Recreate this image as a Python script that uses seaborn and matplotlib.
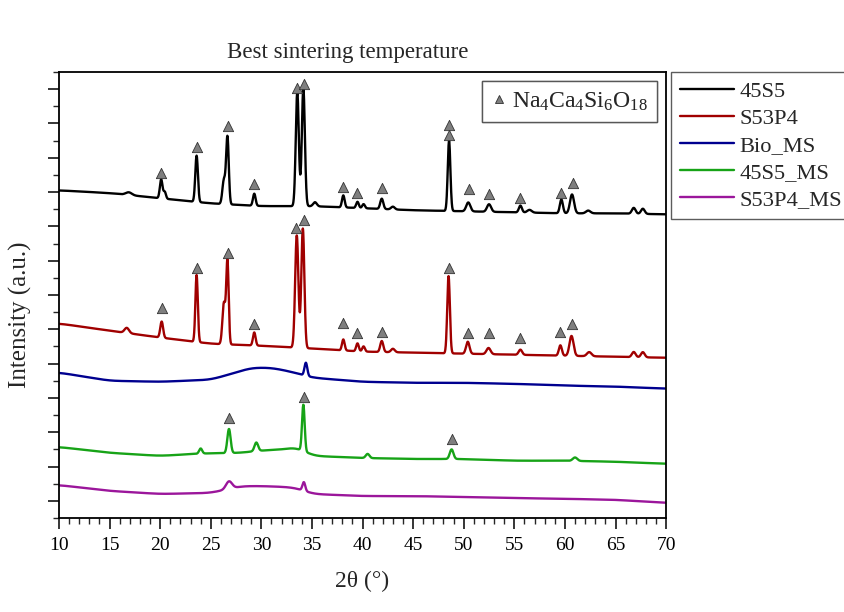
import numpy as np
import pandas as pd
import matplotlib
matplotlib.use("Agg")
import matplotlib.pyplot as plt
from matplotlib.lines import Line2D
from matplotlib.ticker import MultipleLocator, NullFormatter
import seaborn as sns

# ---- XRD traces (stacked, arbitrary intensity units) ----
series_names = ["45S5", "S53P4", "Bio_MS", "45S5_MS", "S53P4_MS"]
series_colors = ["#000000", "#a00000", "#00008f", "#17a317", "#9b169b"]

# background level of each trace: 2theta knots and levels
bg_45S5_x = [10, 15, 20, 25, 30, 35, 40, 45, 50, 55, 60, 65, 70]
bg_45S5_y = [9.05, 8.97, 8.82, 8.67, 8.59, 8.59, 8.53, 8.47, 8.44, 8.41, 8.38, 8.38, 8.35]
bg_S53P4_x = [10, 15, 20, 25, 30, 35, 40, 45, 50, 55, 60, 65, 70]
bg_S53P4_y = [5.17, 4.96, 4.76, 4.58, 4.52, 4.44, 4.35, 4.32, 4.29, 4.26, 4.23, 4.20, 4.17]
bg_Bio_x = [10, 15, 20, 25, 27, 29, 31, 33, 35, 40, 45, 50, 55, 60, 65, 70]
bg_Bio_y = [3.74, 3.50, 3.47, 3.53, 3.70, 3.88, 3.88, 3.76, 3.59, 3.47, 3.44, 3.44, 3.41, 3.36, 3.33, 3.27]
bg_45S5MS_x = [10, 15, 20, 24, 28, 30, 32, 33.5, 35, 40, 45, 50, 55, 60, 65, 70]
bg_45S5MS_y = [1.57, 1.40, 1.31, 1.38, 1.40, 1.47, 1.49, 1.58, 1.31, 1.25, 1.22, 1.22, 1.17, 1.17, 1.14, 1.08]
bg_S53P4MS_x = [10, 15, 20, 25, 28, 30, 32, 33.5, 35, 40, 45, 50, 55, 60, 65, 70]
bg_S53P4MS_y = [0.46, 0.29, 0.20, 0.23, 0.43, 0.43, 0.41, 0.38, 0.20, 0.14, 0.14, 0.11, 0.08, 0.06, 0.03, -0.06]

# reflections: position (deg), height above background, width (deg)
pk_45S5_pos = [16.9, 20.1, 20.45, 23.6, 26.3, 26.65, 29.3, 33.55, 34.15, 35.3, 38.1, 39.5, 40.1,
               41.9, 43.0, 48.55, 50.45, 52.5, 55.6, 56.5, 59.65, 60.7, 62.3, 66.8, 67.7]
pk_45S5_h = [0.08, 0.55, 0.2, 1.35, 0.7, 1.95, 0.35, 3.33, 3.45, 0.12, 0.35, 0.18, 0.12,
             0.3, 0.08, 2.05, 0.26, 0.22, 0.2, 0.08, 0.4, 0.55, 0.08, 0.17, 0.15]
pk_45S5_w = [0.3, 0.13, 0.12, 0.13, 0.15, 0.13, 0.13, 0.15, 0.15, 0.18, 0.13, 0.13, 0.13,
             0.15, 0.18, 0.13, 0.2, 0.2, 0.15, 0.22, 0.15, 0.2, 0.22, 0.18, 0.18]

pk_S53P4_pos = [16.7, 20.15, 23.6, 26.3, 26.65, 29.3, 33.5, 34.1, 38.1, 39.5, 40.1, 41.9, 43.0,
                48.5, 50.4, 52.45, 55.6, 59.55, 60.65, 62.4, 66.8, 67.7]
pk_S53P4_h = [0.15, 0.47, 1.95, 1.2, 2.4, 0.38, 3.27, 3.48, 0.32, 0.23, 0.15, 0.32, 0.1,
              2.25, 0.35, 0.18, 0.15, 0.3, 0.58, 0.12, 0.15, 0.15]
pk_S53P4_w = [0.22, 0.14, 0.12, 0.15, 0.12, 0.13, 0.16, 0.15, 0.13, 0.13, 0.13, 0.15, 0.18,
              0.13, 0.17, 0.2, 0.17, 0.15, 0.2, 0.22, 0.18, 0.18]

pk_Bio_pos = [34.4]
pk_Bio_h = [0.38]
pk_Bio_w = [0.14]

pk_45S5MS_pos = [24.0, 26.8, 29.5, 34.15, 40.5, 48.8, 61.0]
pk_45S5MS_h = [0.15, 0.7, 0.25, 1.35, 0.12, 0.28, 0.1]
pk_45S5MS_w = [0.15, 0.16, 0.18, 0.13, 0.18, 0.18, 0.22]

pk_S53P4MS_pos = [26.8, 34.2]
pk_S53P4MS_h = [0.22, 0.25]
pk_S53P4MS_w = [0.3, 0.14]

# Na4Ca4Si6O18 reflection markers
tri_45S5_x = [20.1, 23.6, 26.7, 29.3, 33.55, 34.2, 38.1, 39.5, 41.9, 48.55, 48.55, 50.5, 52.5, 55.6, 59.6, 60.75]
tri_45S5_y = [9.55, 10.31, 10.92, 9.23, 12.03, 12.15, 9.14, 8.97, 9.11, 10.95, 10.66, 9.08, 8.94, 8.82, 8.97, 9.26]
tri_S53P4_x = [20.2, 23.6, 26.7, 29.3, 33.4, 34.2, 38.1, 39.5, 41.9, 48.5, 50.4, 52.5, 55.6, 59.5, 60.7]
tri_S53P4_y = [5.61, 6.80, 7.21, 5.14, 7.94, 8.18, 5.17, 4.90, 4.93, 6.80, 4.90, 4.88, 4.76, 4.93, 5.14]
tri_45S5MS_x = [26.8, 34.2, 48.8]
tri_45S5MS_y = [2.42, 3.03, 1.81]

x_ticks = [10, 15, 20, 25, 30, 35, 40, 45, 50, 55, 60, 65, 70]

STEP = 0.02


def background(two_theta, bg_x, bg_y, smooth_deg=0.7):
    """Background through the knots, softened with a Gaussian kernel."""
    base = np.interp(two_theta, bg_x, bg_y)
    half = int(3 * smooth_deg / STEP)
    k = np.exp(-0.5 * (np.arange(-half, half + 1) * STEP / smooth_deg) ** 2)
    k /= k.sum()
    padded = np.concatenate([np.full(half, base[0]), base, np.full(half, base[-1])])
    return np.convolve(padded, k, mode="valid")


def pattern(two_theta, bg_x, bg_y, pos, h, w):
    y = background(two_theta, bg_x, bg_y)
    for p, a, s in zip(pos, h, w):
        y = y + a * np.exp(-0.5 * ((two_theta - p) / s) ** 2)
    return y


tt = np.arange(10.0, 70.0001, STEP)
curves = [
    pattern(tt, bg_45S5_x, bg_45S5_y, pk_45S5_pos, pk_45S5_h, pk_45S5_w),
    pattern(tt, bg_S53P4_x, bg_S53P4_y, pk_S53P4_pos, pk_S53P4_h, pk_S53P4_w),
    pattern(tt, bg_Bio_x, bg_Bio_y, pk_Bio_pos, pk_Bio_h, pk_Bio_w),
    pattern(tt, bg_45S5MS_x, bg_45S5MS_y, pk_45S5MS_pos, pk_45S5MS_h, pk_45S5MS_w),
    pattern(tt, bg_S53P4MS_x, bg_S53P4MS_y, pk_S53P4MS_pos, pk_S53P4MS_h, pk_S53P4MS_w),
]
df = pd.concat(
    [pd.DataFrame({"two_theta": tt, "intensity": c, "sample": n}) for n, c in zip(series_names, curves)],
    ignore_index=True,
)
markers = pd.DataFrame({
    "two_theta": tri_45S5_x + tri_S53P4_x + tri_45S5MS_x,
    "y": tri_45S5_y + tri_S53P4_y + tri_45S5MS_y,
})

sns.set_theme(style="ticks")
plt.rcParams["font.family"] = ["Liberation Serif", "DejaVu Serif"]
plt.rcParams["mathtext.fontset"] = "custom"
plt.rcParams["mathtext.rm"] = "Liberation Serif"
plt.rcParams["mathtext.it"] = "Liberation Serif:italic"

fig = plt.figure(figsize=(8.45, 6.12), dpi=100)
ax = fig.add_axes([0.0698, 0.1536, 0.7185, 0.7288])

sns.lineplot(data=df, x="two_theta", y="intensity", hue="sample", hue_order=series_names,
             palette=series_colors, estimator=None, sort=False, linewidth=1.7, legend=False, ax=ax)
sns.scatterplot(data=markers, x="two_theta", y="y", marker="^", s=55, color="#7f7f7f",
                edgecolor="#333333", linewidth=0.6, zorder=5, legend=False, ax=ax)

ax.set_xlim(10, 70)
ax.set_ylim(-0.5, 12.5)
ax.set_xticks(x_ticks)
ax.xaxis.set_minor_locator(MultipleLocator(1))
ax.yaxis.set_major_locator(MultipleLocator(1))
ax.yaxis.set_minor_locator(MultipleLocator(0.5))
ax.yaxis.set_major_formatter(NullFormatter())
ax.tick_params(axis="both", which="major", direction="out", length=8, width=1.1, colors="black",
               labelsize=14, pad=6, top=False, right=False)
ax.tick_params(axis="both", which="minor", direction="out", length=4.5, width=1.0, top=False, right=False)
for sp in ax.spines.values():
    sp.set_visible(True)
    sp.set_linewidth(1.3)
    sp.set_color("black")

ax.set_xlabel("2θ (°)", fontsize=17, labelpad=12)
ax.set_ylabel("Intensity (a.u.)", fontsize=18)
ax.yaxis.set_label_coords(-0.044, 0.455)
ax.set_title("Best sintering temperature", fontsize=16.5, x=0.476, pad=10)

# phase marker key inside the axes
phase_handle = Line2D([], [], linestyle="none", marker="^", markersize=6,
                      markerfacecolor="#7f7f7f", markeredgecolor="#333333", markeredgewidth=0.6)
phase_leg = ax.legend([phase_handle], [r"Na$_4$Ca$_4$Si$_6$O$_{18}$"], loc="upper right",
                      bbox_to_anchor=(0.985, 0.98), fontsize=17, frameon=True, fancybox=False,
                      handlelength=0.6, handletextpad=0.25, borderpad=0.4, borderaxespad=0)
phase_leg.get_frame().set_edgecolor("#444444")
phase_leg.get_frame().set_linewidth(1.0)
ax.add_artist(phase_leg)

# sample key outside the axes on the right
handles = [Line2D([], [], color=c, linewidth=1.7) for c in series_colors]
leg = fig.legend(handles, series_names, loc="upper left", bbox_to_anchor=(671 / 845, 1 - 72 / 612),
                 fontsize=16.2, frameon=True, fancybox=False, handlelength=2.4, handletextpad=0.25,
                 labelspacing=0.28, borderpad=0.4, borderaxespad=0)
leg.get_frame().set_edgecolor("#333333")
leg.get_frame().set_linewidth(1.0)

fig.savefig("out.png", dpi=100, facecolor="white")
